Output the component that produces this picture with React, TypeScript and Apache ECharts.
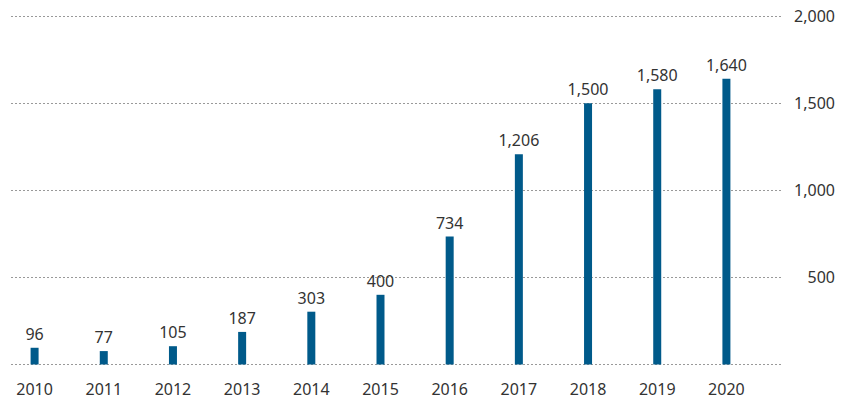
import React, { useEffect, useRef } from "react";
import * as echarts from "echarts";

const years = ["2010", "2011", "2012", "2013", "2014", "2015", "2016", "2017", "2018", "2019", "2020"];
const values = [96, 77, 105, 187, 303, 400, 734, 1206, 1500, 1580, 1640];
const yTicks = [0, 500, 1000, 1500, 2000];

const FONT = "'Noto Sans', sans-serif";
const TEXT = "#333333";
const BAR = "#005a8a";

export default function App() {
  const ref = useRef<HTMLDivElement>(null);
  useEffect(() => {
    const chart = echarts.init(ref.current!, null, { renderer: "svg" });
    const yMin = yTicks[0];
    const yMax = yTicks[yTicks.length - 1];
    const step = yTicks[1] - yTicks[0];
    chart.setOption({
      animation: false,
      grid: [
        { left: 11, right: 62, top: 16, bottom: 41.5 },
        { left: -7, right: 83, top: 16, bottom: 41.5 },
      ],
      xAxis: [
        { type: "category", gridIndex: 0, data: years, show: false },
        {
          type: "category",
          gridIndex: 1,
          data: years,
          axisLine: { show: false },
          axisTick: { show: false },
          axisLabel: { color: TEXT, fontFamily: FONT, fontSize: 16, margin: 16 },
        },
      ],
      yAxis: [
        {
          type: "value",
          gridIndex: 0,
          position: "right",
          min: yMin,
          max: yMax,
          interval: step,
          axisLine: { show: false },
          axisTick: { show: false },
          splitLine: { show: true, lineStyle: { color: "#999999", type: [2, 2], width: 1 } },
          axisLabel: {
            color: TEXT,
            fontFamily: FONT,
            fontSize: 16,
            align: "right",
            margin: 53,
            formatter: (v: number) => (v === 0 ? "" : v.toLocaleString("en-US")),
          },
        },
        { type: "value", gridIndex: 1, min: yMin, max: yMax, interval: step, show: false },
      ],
      series: [
        {
          type: "bar",
          xAxisIndex: 1,
          yAxisIndex: 1,
          data: values,
          barWidth: 8,
          itemStyle: { color: BAR },
          label: {
            show: true,
            position: "top",
            distance: 6,
            color: TEXT,
            fontFamily: FONT,
            fontSize: 16,
            formatter: (p: any) => Number(p.value).toLocaleString("en-US"),
          },
        },
      ],
    });
    return () => chart.dispose();
  }, []);
  return <div ref={ref} style={{ width: 844, height: 406, position: "absolute", left: 0, top: 0 }} />;
}
